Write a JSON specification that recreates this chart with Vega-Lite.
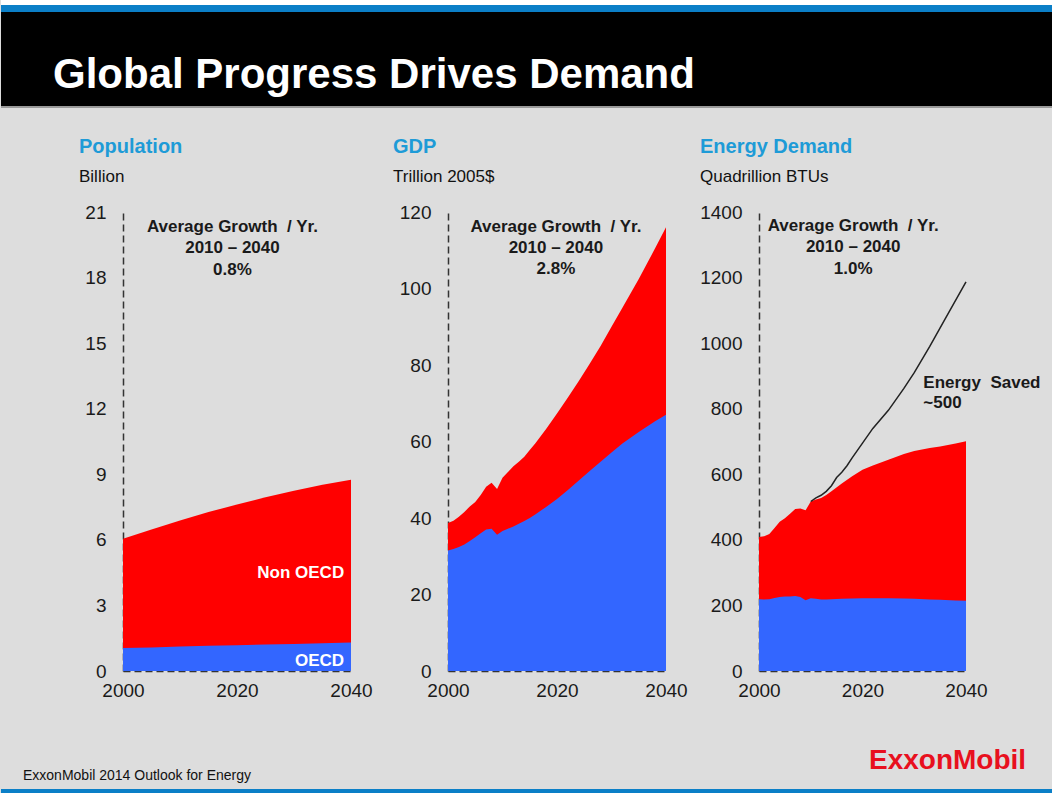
{
  "$schema": "https://vega.github.io/schema/vega-lite/v6.json",
  "background": "#dddddd",
  "padding": 0,
  "spacing": 29,
  "config": {
    "view": {"stroke": null},
    "font": "Liberation Sans",
    "axis": {"labelFont": "Liberation Sans", "labelFontSize": 19, "labelColor": "#1a1a1a", "ticks": false, "grid": false, "domainDash": [7, 4], "domainColor": "#333333", "domainWidth": 1.5, "title": null, "zindex": 1, "labelFlush": false},
    "axisX": {"labelPadding": 10},
    "axisY": {"labelPadding": 17},
    "title": {"anchor": "start", "frame": "group", "font": "Liberation Sans", "fontSize": 20, "fontWeight": "bold", "color": "#1E9BD7", "subtitleFont": "Liberation Sans", "subtitleFontSize": 17, "subtitleColor": "#111111", "subtitlePadding": 12, "offset": 18}
  },
  "datasets": {
    "population": [
      {"year": 2000, "OECD": 1.05, "Total": 6.05},
      {"year": 2005, "OECD": 1.08, "Total": 6.47},
      {"year": 2010, "OECD": 1.12, "Total": 6.88},
      {"year": 2015, "OECD": 1.15, "Total": 7.27},
      {"year": 2020, "OECD": 1.18, "Total": 7.62},
      {"year": 2025, "OECD": 1.21, "Total": 7.95},
      {"year": 2030, "OECD": 1.24, "Total": 8.25},
      {"year": 2035, "OECD": 1.27, "Total": 8.52},
      {"year": 2040, "OECD": 1.30, "Total": 8.75}
    ],
    "gdp": [
      {"year": 2000, "OECD": 31.5, "Total": 38.7},
      {"year": 2001, "OECD": 31.9, "Total": 39.3},
      {"year": 2002, "OECD": 32.4, "Total": 40.3},
      {"year": 2003, "OECD": 33.1, "Total": 41.6},
      {"year": 2004, "OECD": 34.0, "Total": 43.0},
      {"year": 2005, "OECD": 35.0, "Total": 44.2},
      {"year": 2006, "OECD": 36.0, "Total": 46.0},
      {"year": 2007, "OECD": 37.0, "Total": 48.2},
      {"year": 2008, "OECD": 37.2, "Total": 49.2},
      {"year": 2009, "OECD": 35.6, "Total": 47.6},
      {"year": 2010, "OECD": 36.6, "Total": 50.5},
      {"year": 2011, "OECD": 37.2, "Total": 52.0},
      {"year": 2012, "OECD": 37.8, "Total": 53.5},
      {"year": 2013, "OECD": 38.5, "Total": 54.7},
      {"year": 2014, "OECD": 39.2, "Total": 56.0},
      {"year": 2015, "OECD": 40.0, "Total": 57.8},
      {"year": 2016, "OECD": 40.9, "Total": 59.5},
      {"year": 2018, "OECD": 42.9, "Total": 63.3},
      {"year": 2020, "OECD": 45.0, "Total": 67.3},
      {"year": 2022, "OECD": 47.3, "Total": 71.5},
      {"year": 2024, "OECD": 49.8, "Total": 75.8},
      {"year": 2026, "OECD": 52.3, "Total": 80.3},
      {"year": 2028, "OECD": 54.7, "Total": 85.0},
      {"year": 2030, "OECD": 57.1, "Total": 90.0},
      {"year": 2032, "OECD": 59.5, "Total": 95.0},
      {"year": 2035, "OECD": 62.5, "Total": 102.5},
      {"year": 2038, "OECD": 65.3, "Total": 110.5},
      {"year": 2040, "OECD": 67.0, "Total": 116.0}
    ],
    "energy": [
      {"year": 2000, "OECD": 219, "Total": 409},
      {"year": 2001, "OECD": 218, "Total": 411},
      {"year": 2002, "OECD": 219, "Total": 418},
      {"year": 2003, "OECD": 223, "Total": 436},
      {"year": 2004, "OECD": 226, "Total": 455},
      {"year": 2005, "OECD": 227, "Total": 466},
      {"year": 2006, "OECD": 227, "Total": 480},
      {"year": 2007, "OECD": 229, "Total": 494},
      {"year": 2008, "OECD": 226, "Total": 496},
      {"year": 2009, "OECD": 216, "Total": 490},
      {"year": 2010, "OECD": 222, "Total": 517},
      {"year": 2011, "OECD": 220, "Total": 523},
      {"year": 2012, "OECD": 218, "Total": 528},
      {"year": 2013, "OECD": 218, "Total": 537},
      {"year": 2014, "OECD": 219, "Total": 548},
      {"year": 2016, "OECD": 220, "Total": 572},
      {"year": 2018, "OECD": 221, "Total": 594},
      {"year": 2020, "OECD": 222, "Total": 614},
      {"year": 2022, "OECD": 222, "Total": 627},
      {"year": 2025, "OECD": 222, "Total": 644},
      {"year": 2028, "OECD": 221, "Total": 662},
      {"year": 2030, "OECD": 220, "Total": 671},
      {"year": 2033, "OECD": 218, "Total": 680},
      {"year": 2035, "OECD": 217, "Total": 685},
      {"year": 2038, "OECD": 215, "Total": 694},
      {"year": 2040, "OECD": 214, "Total": 701}
    ],
    "energy_trend": [
      {"year": 2010, "demand": 517},
      {"year": 2011, "demand": 528},
      {"year": 2012, "demand": 536},
      {"year": 2013, "demand": 548},
      {"year": 2014, "demand": 565},
      {"year": 2015, "demand": 590},
      {"year": 2016, "demand": 606},
      {"year": 2017, "demand": 626},
      {"year": 2018, "demand": 650},
      {"year": 2020, "demand": 695},
      {"year": 2022, "demand": 740},
      {"year": 2025, "demand": 795},
      {"year": 2028, "demand": 862},
      {"year": 2030, "demand": 910},
      {"year": 2033, "demand": 990},
      {"year": 2036, "demand": 1075},
      {"year": 2040, "demand": 1187}
    ],
    "pop_notes": [
      {"label": "Average Growth\u00a0 / Yr.", "year": 2019.2, "value": 20.33},
      {"label": "2010 – 2040", "year": 2019.2, "value": 19.36},
      {"label": "0.8%", "year": 2019.2, "value": 18.34}
    ],
    "gdp_notes": [
      {"label": "Average Growth\u00a0 / Yr.", "year": 2019.8, "value": 116.2},
      {"label": "2010 – 2040", "year": 2019.8, "value": 110.7},
      {"label": "2.8%", "year": 2019.8, "value": 105.0}
    ],
    "energy_notes": [
      {"label": "Average Growth\u00a0 / Yr.", "year": 2018.2, "value": 1358},
      {"label": "2010 – 2040", "year": 2018.2, "value": 1293},
      {"label": "1.0%", "year": 2018.2, "value": 1227}
    ],
    "energy_saved": [
      {"label": "Energy\u00a0 Saved", "year": 2031.75, "value": 877},
      {"label": "~500", "year": 2031.75, "value": 816}
    ],
    "region_labels": [
      {"label": "Non OECD", "year": 2038.8, "value": 4.5},
      {"label": "OECD", "year": 2038.8, "value": 0.46}
    ]
  },
  "vconcat": [
    {
      "width": 930,
      "height": 108,
      "data": {"values": [{"headline": "Global Progress Drives Demand"}]},
      "encoding": {
        "x": {"datum": 0, "type": "quantitative", "scale": {"domain": [122, 1052]}, "axis": null},
        "x2": {"datum": 1052}
      },
      "layer": [
        {"mark": {"type": "rect", "color": "#ffffff"}, "encoding": {"y": {"datum": 0, "type": "quantitative", "scale": {"domain": [0, 108], "reverse": true}, "axis": null}, "y2": {"datum": 5}}},
        {"mark": {"type": "rect", "color": "#0B7FC7"}, "encoding": {"y": {"datum": 5, "type": "quantitative", "scale": {"domain": [0, 108], "reverse": true}, "axis": null}, "y2": {"datum": 12}}},
        {"mark": {"type": "rect", "color": "#000000"}, "encoding": {"y": {"datum": 12, "type": "quantitative", "scale": {"domain": [0, 108], "reverse": true}, "axis": null}, "y2": {"datum": 106}}},
        {"mark": {"type": "rect", "color": "#9a9a9a"}, "encoding": {"y": {"datum": 106, "type": "quantitative", "scale": {"domain": [0, 108], "reverse": true}, "axis": null}, "y2": {"datum": 108}}},
        {"mark": {"type": "text", "align": "left", "baseline": "alphabetic", "font": "Liberation Sans", "fontWeight": "bold", "fontSize": 42, "color": "#ffffff"},
         "encoding": {"x": {"datum": 52, "type": "quantitative", "scale": {"domain": [122, 1052]}, "axis": null}, "x2": null, "y": {"datum": 88, "type": "quantitative", "scale": {"domain": [0, 108], "reverse": true}, "axis": null}, "text": {"field": "headline"}}}
      ]
    },
    {
      "spacing": 0,
      "hconcat": [
        {
          "width": 228,
          "height": 459,
          "title": {"text": "Population", "subtitle": "Billion", "dx": -44},
          "layer": [
            {"data": {"name": "population"}, "mark": {"type": "area", "color": "#ff0000"},
             "encoding": {"x": {"field": "year", "type": "quantitative", "scale": {"domain": [2000, 2040], "nice": false}, "axis": {"values": [2000, 2020, 2040], "format": "d"}},
                          "y": {"field": "Total", "type": "quantitative", "scale": {"domain": [0, 21], "nice": false}, "axis": {"values": [0, 3, 6, 9, 12, 15, 18, 21], "format": "d", "minExtent": 122, "maxExtent": 122}}}},
            {"data": {"name": "population"}, "mark": {"type": "area", "color": "#3366ff"},
             "encoding": {"x": {"field": "year", "type": "quantitative"}, "y": {"field": "OECD", "type": "quantitative"}}},
            {"data": {"name": "pop_notes"}, "mark": {"type": "text", "fontSize": 17, "fontWeight": "bold", "color": "#1a1a1a", "align": "center", "baseline": "middle"},
             "encoding": {"x": {"field": "year", "type": "quantitative"}, "y": {"field": "value", "type": "quantitative"}, "text": {"field": "label"}}},
            {"data": {"name": "region_labels"}, "mark": {"type": "text", "fontSize": 17, "fontWeight": "bold", "color": "#ffffff", "align": "right", "baseline": "middle"},
             "encoding": {"x": {"field": "year", "type": "quantitative"}, "y": {"field": "value", "type": "quantitative"}, "text": {"field": "label"}}}
          ]
        },
        {
          "width": 218,
          "height": 459,
          "title": {"text": "GDP", "subtitle": "Trillion 2005$", "dx": -55},
          "layer": [
            {"data": {"name": "gdp"}, "mark": {"type": "area", "color": "#ff0000"},
             "encoding": {"x": {"field": "year", "type": "quantitative", "scale": {"domain": [2000, 2040], "nice": false}, "axis": {"values": [2000, 2020, 2040], "format": "d"}},
                          "y": {"field": "Total", "type": "quantitative", "scale": {"domain": [0, 120], "nice": false}, "axis": {"values": [0, 20, 40, 60, 80, 100, 120], "format": "d", "minExtent": 75, "maxExtent": 75}}}},
            {"data": {"name": "gdp"}, "mark": {"type": "area", "color": "#3366ff"},
             "encoding": {"x": {"field": "year", "type": "quantitative"}, "y": {"field": "OECD", "type": "quantitative"}}},
            {"data": {"name": "gdp_notes"}, "mark": {"type": "text", "fontSize": 17, "fontWeight": "bold", "color": "#1a1a1a", "align": "center", "baseline": "middle"},
             "encoding": {"x": {"field": "year", "type": "quantitative"}, "y": {"field": "value", "type": "quantitative"}, "text": {"field": "label"}}}
          ]
        },
        {
          "width": 207,
          "height": 459,
          "title": {"text": "Energy Demand", "subtitle": "Quadrillion BTUs", "dx": -59},
          "layer": [
            {"data": {"name": "energy"}, "mark": {"type": "area", "color": "#ff0000"},
             "encoding": {"x": {"field": "year", "type": "quantitative", "scale": {"domain": [2000, 2040], "nice": false}, "axis": {"values": [2000, 2020, 2040], "format": "d"}},
                          "y": {"field": "Total", "type": "quantitative", "scale": {"domain": [0, 1400], "nice": false}, "axis": {"values": [0, 200, 400, 600, 800, 1000, 1200, 1400], "format": "d", "minExtent": 71, "maxExtent": 71}}}},
            {"data": {"name": "energy"}, "mark": {"type": "area", "color": "#3366ff"},
             "encoding": {"x": {"field": "year", "type": "quantitative"}, "y": {"field": "OECD", "type": "quantitative"}}},
            {"data": {"name": "energy_trend"}, "mark": {"type": "line", "color": "#222222", "strokeWidth": 1.5},
             "encoding": {"x": {"field": "year", "type": "quantitative"}, "y": {"field": "demand", "type": "quantitative"}}},
            {"data": {"name": "energy_notes"}, "mark": {"type": "text", "fontSize": 17, "fontWeight": "bold", "color": "#1a1a1a", "align": "center", "baseline": "middle"},
             "encoding": {"x": {"field": "year", "type": "quantitative"}, "y": {"field": "value", "type": "quantitative"}, "text": {"field": "label"}}},
            {"data": {"name": "energy_saved"}, "mark": {"type": "text", "fontSize": 17, "fontWeight": "bold", "color": "#1a1a1a", "align": "left", "baseline": "middle"},
             "encoding": {"x": {"field": "year", "type": "quantitative"}, "y": {"field": "value", "type": "quantitative"}, "text": {"field": "label"}}}
          ]
        }
      ]
    },
    {
      "width": 930,
      "height": 64,
      "data": {"values": [{"source": "ExxonMobil 2014 Outlook for Energy", "brand": "ExxonMobil"}]},
      "layer": [
        {"mark": {"type": "rect", "color": "#0B7FC7"},
         "encoding": {"x": {"datum": 0, "type": "quantitative", "scale": {"domain": [122, 1052]}, "axis": null}, "x2": {"datum": 1052}, "y": {"datum": 60, "type": "quantitative", "scale": {"domain": [0, 64], "reverse": true}, "axis": null}, "y2": {"datum": 64}}},
        {"mark": {"type": "text", "align": "left", "baseline": "middle", "fontSize": 14, "color": "#111111"},
         "encoding": {"x": {"datum": 22, "type": "quantitative", "scale": {"domain": [122, 1052]}, "axis": null}, "y": {"datum": 46.7, "type": "quantitative", "scale": {"domain": [0, 64], "reverse": true}, "axis": null}, "text": {"field": "source"}}},
        {"mark": {"type": "text", "align": "left", "baseline": "middle", "fontSize": 28, "fontWeight": "bold", "color": "#e8101e"},
         "encoding": {"x": {"datum": 868, "type": "quantitative", "scale": {"domain": [122, 1052]}, "axis": null}, "y": {"datum": 32, "type": "quantitative", "scale": {"domain": [0, 64], "reverse": true}, "axis": null}, "text": {"field": "brand"}}}
      ]
    }
  ]
}
